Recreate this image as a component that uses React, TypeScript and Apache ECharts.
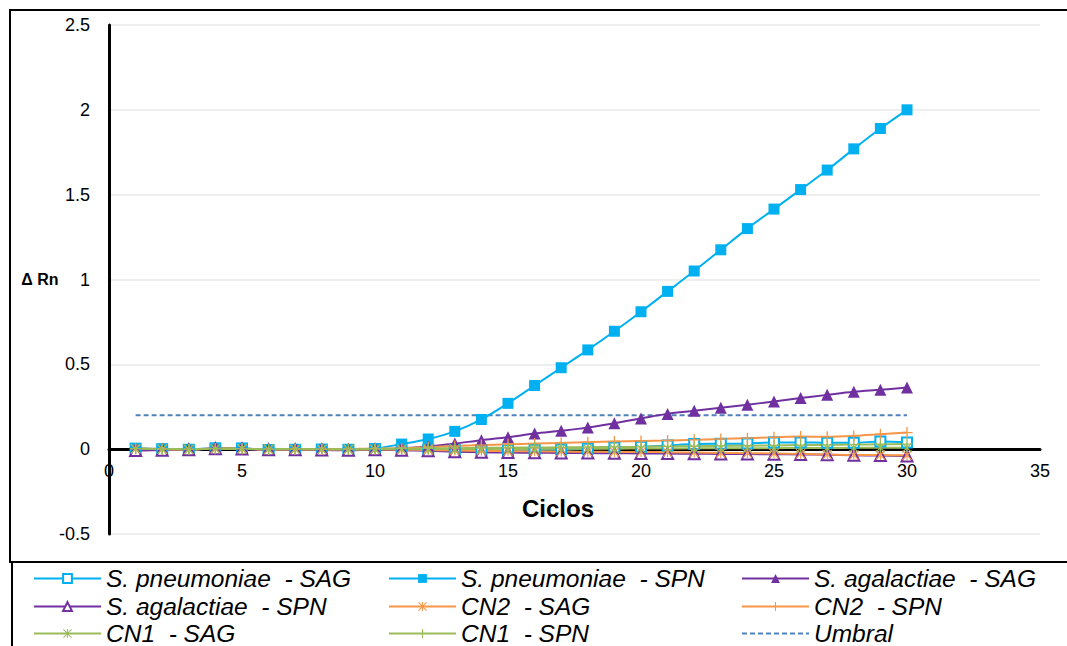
import React, { useEffect, useRef } from "react";
import * as echarts from "echarts";

const cycles = [1, 2, 3, 4, 5, 6, 7, 8, 9, 10, 11, 12, 13, 14, 15, 16, 17, 18, 19, 20, 21, 22, 23, 24, 25, 26, 27, 28, 29, 30];

const spnSAG = [0.003, -0.001, -0.003, 0.004, 0.004, -0.005, -0.003, -0.002, -0.003, 0.001, -0.002, -0.004, -0.005, -0.006, -0.005, -0.004, -0.002, 0.003, 0.010, 0.014, 0.022, 0.030, 0.032, 0.034, 0.040, 0.040, 0.038, 0.038, 0.045, 0.040];
const spnSPN = [0.005, 0.001, -0.002, 0.006, 0.005, -0.004, -0.002, -0.003, -0.002, 0.004, 0.030, 0.060, 0.105, 0.175, 0.270, 0.375, 0.480, 0.585, 0.695, 0.810, 0.930, 1.050, 1.175, 1.300, 1.415, 1.530, 1.645, 1.770, 1.890, 2.000];
const agSAG = [-0.006, -0.004, -0.002, 0.004, 0.003, -0.002, -0.001, -0.003, -0.004, -0.001, 0.006, 0.016, 0.033, 0.053, 0.070, 0.092, 0.108, 0.127, 0.153, 0.181, 0.208, 0.226, 0.244, 0.262, 0.281, 0.301, 0.320, 0.338, 0.350, 0.363];
const agSPN = [-0.008, -0.006, -0.004, 0.002, 0.001, -0.004, -0.003, -0.005, -0.006, -0.004, -0.006, -0.010, -0.015, -0.018, -0.020, -0.021, -0.022, -0.023, -0.024, -0.025, -0.026, -0.027, -0.028, -0.029, -0.030, -0.031, -0.033, -0.036, -0.038, -0.040];
const cn2SAG = [0.002, 0.000, -0.002, 0.003, 0.002, -0.002, -0.001, -0.002, -0.002, -0.001, -0.003, -0.005, -0.008, -0.010, -0.012, -0.013, -0.014, -0.015, -0.016, -0.017, -0.018, -0.020, -0.022, -0.024, -0.025, -0.027, -0.032, -0.034, -0.035, -0.036];
const cn2SPN = [0.003, 0.001, -0.001, 0.004, 0.003, 0.000, 0.001, 0.000, 0.001, 0.003, 0.006, 0.012, 0.018, 0.024, 0.029, 0.033, 0.037, 0.041, 0.045, 0.048, 0.051, 0.055, 0.060, 0.065, 0.070, 0.074, 0.073, 0.078, 0.088, 0.098];
const cn1SAG = [0.002, 0.000, -0.001, 0.002, 0.002, -0.001, 0.000, -0.001, -0.001, 0.000, 0.001, 0.002, 0.001, 0.000, 0.001, 0.002, 0.002, 0.003, 0.003, 0.004, 0.004, 0.005, 0.005, 0.006, 0.006, 0.007, 0.007, 0.008, 0.008, 0.008];
const cn1SPN = [0.003, 0.001, 0.000, 0.003, 0.003, 0.000, 0.001, 0.000, 0.000, 0.002, 0.003, 0.005, 0.006, 0.008, 0.009, 0.010, 0.011, 0.012, 0.013, 0.014, 0.016, 0.017, 0.019, 0.020, 0.022, 0.024, 0.025, 0.027, 0.029, 0.030];
const umbral = [0.2, 0.2, 0.2, 0.2, 0.2, 0.2, 0.2, 0.2, 0.2, 0.2, 0.2, 0.2, 0.2, 0.2, 0.2, 0.2, 0.2, 0.2, 0.2, 0.2, 0.2, 0.2, 0.2, 0.2, 0.2, 0.2, 0.2, 0.2, 0.2, 0.2];

const seriesNames = [
  "S. pneumoniae  - SAG",
  "S. pneumoniae  - SPN",
  "S. agalactiae  - SAG",
  "S. agalactiae  - SPN",
  "CN2  - SAG",
  "CN2  - SPN",
  "CN1  - SAG",
  "CN1  - SPN",
  "Umbral",
];

const xMin = 0;
const xMax = 35;
const xStep = 5;
const yMin = -0.5;
const yMax = 2.5;
const yStep = 0.5;
const xTitle = "Ciclos";
const yTitle = "Δ Rn";

const FONT = "'Liberation Sans', Arial, sans-serif";
const CYAN = "#00B0F0";
const PURPLE = "#7030A0";
const ORANGE = "#F79646";
const GREEN = "#9BBB59";
const BLUE = "#4F81BD";

const PLUS = "path://M4.4,0H5.6V4.4H10V5.6H5.6V10H4.4V5.6H0V4.4H4.4Z";
const STAR = "path://M4.45,0H5.55V10H4.45Z M0.8,0L10,9.2L9.2,10L0,0.8Z M9.2,0L10,0.8L0.8,10L0,9.2Z";

const GRID_TOP = 25;
const GRID_BOTTOM = 112;
const CHART_H = 646;

export default function App() {
  const ref = useRef<HTMLDivElement>(null);

  useEffect(() => {
    if (!ref.current) return;
    const chart = echarts.init(ref.current, undefined, { renderer: "svg" });
    const pts = (arr: number[]) => cycles.map((c, i) => [c, arr[i]]);

    const mk = (name: string, arr: number[], color: string, symbol: string, size: number, empty = false) => ({
      name,
      type: "line",
      data: pts(arr),
      smooth: 0.35,
      symbol,
      symbolSize: size,
      showSymbol: true,
      lineStyle: { color, width: 2 },
      itemStyle: empty
        ? { color, borderColor: color, borderWidth: 1.3 }
        : { color, borderColor: color, borderWidth: 0 },
      z: 3,
    });

    const series: any[] = [
      mk(seriesNames[0], spnSAG, CYAN, "emptyRect", 10, true),
      mk(seriesNames[1], spnSPN, CYAN, "rect", 11),
      mk(seriesNames[2], agSAG, PURPLE, "triangle", 12),
      mk(seriesNames[3], agSPN, PURPLE, "emptyTriangle", 11, true),
      mk(seriesNames[4], cn2SAG, ORANGE, STAR, 10),
      mk(seriesNames[5], cn2SPN, ORANGE, PLUS, 11),
      mk(seriesNames[6], cn1SAG, GREEN, STAR, 10),
      mk(seriesNames[7], cn1SPN, GREEN, PLUS, 11),
      {
        name: seriesNames[8],
        type: "line",
        data: pts(umbral),
        symbol: "none",
        lineStyle: { color: BLUE, width: 2, type: [5, 3] },
        itemStyle: { color: BLUE },
        z: 2,
      },
    ];

    // zero line offset from the bottom of the grid, via the axis scale
    const plotH = CHART_H - GRID_TOP - GRID_BOTTOM;
    const zeroOffset = ((0 - yMin) / (yMax - yMin)) * plotH;

    const colLeft = [33, 388, 741];
    const rowMid = [577, 605, 632];
    const legendOrder = [0, 1, 2, 3, 4, 5, 6, 7, 8];
    const legends = legendOrder.map((si, k) => ({
      orient: "horizontal",
      left: colLeft[k % 3],
      top: rowMid[Math.floor(k / 3)] - 11,
      padding: 0,
      itemWidth: 67,
      itemHeight: 11,
      itemStyle: si === 8 ? { opacity: 0 } : {},
      textStyle: { fontFamily: FONT, fontSize: 24.5, lineHeight: 22, fontStyle: "italic", color: "#000" },
      selectedMode: false,
      data: [seriesNames[si]],
    }));

    chart.setOption({
      animation: false,
      backgroundColor: "#fff",
      textStyle: { fontFamily: FONT },
      grid: { left: 109, right: 27, top: GRID_TOP, bottom: GRID_BOTTOM, containLabel: false },
      xAxis: {
        type: "value",
        min: xMin,
        max: xMax,
        interval: xStep,
        offset: -zeroOffset,
        axisLine: { onZero: false, lineStyle: { color: "#000", width: 3 } },
        axisTick: { show: false },
        splitLine: { show: false },
        axisLabel: { color: "#000", fontSize: 18, fontFamily: FONT, margin: 13 },
      },
      yAxis: {
        type: "value",
        min: yMin,
        max: yMax,
        interval: yStep,
        axisLine: { show: true, onZero: false, lineStyle: { color: "#000", width: 3 } },
        axisTick: { show: false },
        splitLine: { show: true, lineStyle: { color: "#eeeeee", width: 2 } },
        axisLabel: { color: "#000", fontSize: 18, fontFamily: FONT, margin: 19 },
      },
      legend: legends,
      graphic: [
        {
          type: "rect",
          shape: { x: 10, y: 10, width: 1100, height: 552 },
          style: { fill: "none", stroke: "#000", lineWidth: 2 },
          silent: true,
        },
        {
          type: "rect",
          shape: { x: 12, y: 562, width: 1100, height: 120 },
          style: { fill: "none", stroke: "#000", lineWidth: 2 },
          silent: true,
        },
        {
          type: "text",
          x: 40,
          y: 279,
          style: {
            text: yTitle,
            font: `bold 16px ${FONT}`,
            fill: "#000",
            align: "center",
            verticalAlign: "middle",
          },
        },
        {
          type: "text",
          x: 558,
          y: 508,
          style: {
            text: xTitle,
            font: `bold 24px ${FONT}`,
            fill: "#000",
            align: "center",
            verticalAlign: "middle",
          },
        },
      ],
      series,
    });

    return () => chart.dispose();
  }, []);

  return (
    <div
      ref={ref}
      style={{ position: "fixed", left: 0, top: 0, width: 1067, height: 646 }}
    />
  );
}
